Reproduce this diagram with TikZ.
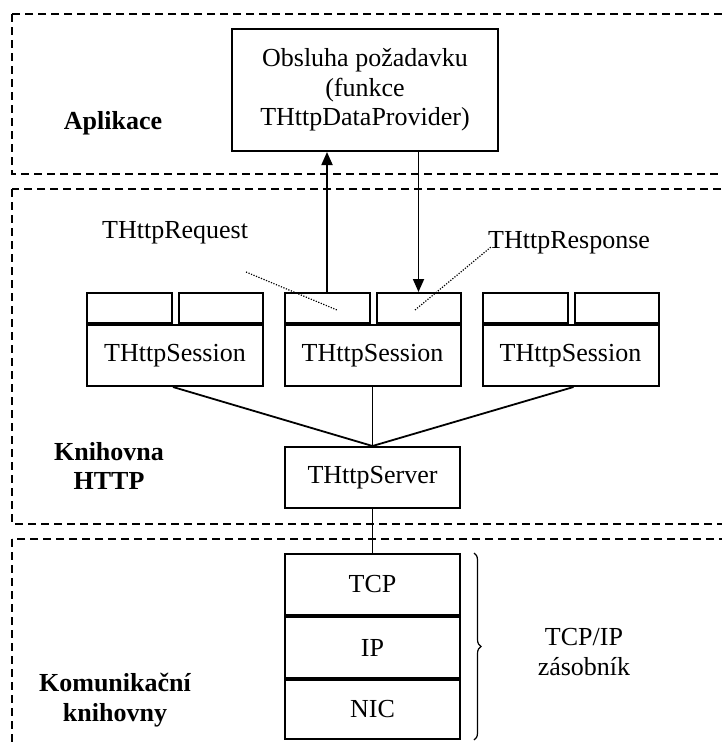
\documentclass[tikz,border=0pt]{standalone}
\usepackage{fontspec}
\setmainfont{Liberation Serif}
\usetikzlibrary{arrows.meta,positioning,decorations.pathreplacing}
\tikzset{
	txt/.style={font=\fontsize{26}{29.5}\selectfont, inner sep=0pt, align=center},
	layer/.style={txt, font=\fontsize{26}{29.5}\selectfont\bfseries},
	region/.style={draw, line width=2.2pt, dash pattern=on 8pt off 5pt},
	box/.style={txt, draw, line width=2pt, minimum width=175pt, minimum height=61pt},
	subbox/.style={draw, line width=2pt, minimum height=30pt, inner sep=0pt},
	link/.style={line width=1.8pt},
	pointer/.style={line width=1.2pt, dash pattern=on 1.2pt off 1.5pt}
}

\begin{document}
\begin{tikzpicture}[x=1pt, y=-1pt, line cap=butt, line join=miter, >={Triangle[length=13pt,width=11pt]}]
	\useasboundingbox (0,0) rectangle (722,744);
	\clip (0,0) rectangle (722,744);
	
	% Regions
	\draw[region] (12,14) rectangle (740,174);
	\draw[region] (12,189) rectangle (740,524);
	\draw[region] (12,539) rectangle (740,760);
	\node[layer] (app) at (113,123) {Aplikace};
	\node[layer] (lib) at (109,466) {Knihovna\\HTTP};
	\node[layer] (com) at (115,700) {Komunikační\\knihovny};
	
	% Request handler
	\node[box, minimum width=266pt, minimum height=122pt] (obs) at (365,90) {Obsluha požadavku\\(funkce\\THttpDataProvider)};
	
	% Sessions
	\foreach \name/\x in {s1/175, s2/372.5, s3/570.5} {
		\node[box, minimum width=176pt] (\name) at (\x,355.5) {THttpSession};
		\node[subbox, minimum width=85pt, anchor=south west] (\name a) at (\name.north west) {};
		\node[subbox, minimum width=84pt, anchor=south east] (\name b) at (\name.north east) {};
	}
	
	% Server and TCP/IP stack
	\node[box] (srv) at (372.5,477.5) {THttpServer};
	\node[box] (tcp) at (372.5,584.5) {TCP};
	\node[box, below=0pt of tcp] (ip) {IP};
	\node[box, below=0pt of ip, minimum height=59pt] (nic) {NIC};
	
	% Connectors
	\draw[link, ->] (s2a.north) -- (s2a.north |- obs.south);
	\draw[link, ->] (obs.south -| s2b.north) -- (s2b.north);
	\draw[link] (s1.south -| s1a.east) -- (srv.north);
	\draw[link] (s2.south) -- (srv.north);
	\draw[link] (s3.south -| s3b.west) -- (srv.north);
	\draw[link] (srv.south) -- (tcp.north);
	
	% Request / response labels
	\node[txt, anchor=west] (req) at (102,233) {THttpRequest};
	\node[txt, anchor=west] (resp) at (488,243) {THttpResponse};
	\coordinate (reqtail) at (246,272);
	\coordinate (reqhead) at (337,310);
	\coordinate (resphead) at (415,310);
	\coordinate (resptail) at (491,247);
	\draw[pointer] (reqtail) -- (reqhead);
	\draw[pointer] (resphead) -- (resptail);
	
	% Stack brace
	\draw[line width=1.2pt, decorate, decoration={brace, amplitude=7pt}] (tcp.north east) ++(13,0) coordinate (btop) -- (btop |- nic.south);
	\node[txt] (stack) at (584,652) {TCP/IP\\zásobník};
	
\end{tikzpicture}
\end{document}
